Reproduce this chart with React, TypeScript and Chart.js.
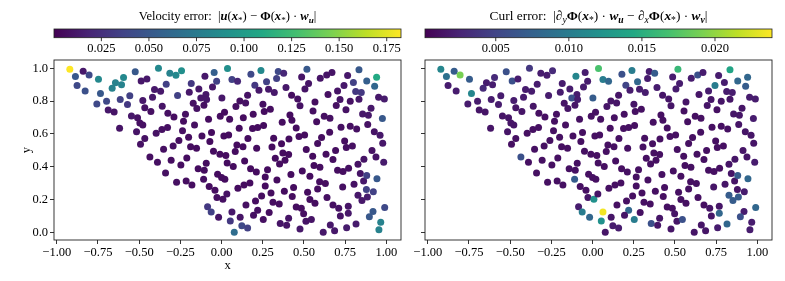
import React, { useEffect, useRef } from "react";
import { Chart, registerables } from "chart.js";

Chart.register(...registerables);

// ---------------- data ----------------
// Node positions (shared by both panels)
const pointX: number[] = [
  -0.921, -0.840, -0.804, -0.887, -0.747, -0.524, -0.383, -0.314, -0.277, -0.243,
  -0.101, -0.045, 0.036, -0.030, 0.063, 0.097, 0.178, 0.239, 0.344, 0.377,
  0.334, 0.273, 0.518, 0.486, 0.599, 0.638, 0.670, 0.765, 0.834, 0.881,
  0.941, 0.800, 0.743, 0.929, -0.877, -0.828, -0.644, -0.595, -0.607, -0.664,
  -0.488, -0.453, -0.735, -0.407, -0.370, -0.336, -0.184, -0.138, -0.196, -0.055,
  -0.095, 0.202, 0.227, 0.285, 0.320, 0.391, 0.528, 0.506, 0.704, 0.814,
  0.848, -0.757, -0.698, -0.615, -0.557, -0.571, -0.478, -0.419, -0.267, -0.126,
  -0.091, 0.002, -0.172, -0.107, -0.150, -0.360, 0.111, 0.146, 0.087, 0.158,
  0.251, 0.425, 0.462, 0.476, 0.567, 0.646, 0.719, 0.696, 0.781, 0.834,
  0.953, 0.988, -0.688, -0.652, -0.466, -0.429, -0.547, -0.510, -0.496, -0.478,
  -0.326, -0.289, -0.219, -0.231, -0.079, -0.008, 0.018, 0.049, 0.132, 0.192,
  0.259, 0.296, 0.415, 0.368, 0.427, 0.555, 0.577, 0.623, 0.658, 0.755,
  0.907, 0.856, 0.891, 0.976, -0.619, -0.164, -0.362, -0.328, -0.397, -0.516,
  -0.237, -0.119, -0.061, 0.014, 0.043, 0.107, 0.188, 0.219, 0.255, 0.160,
  0.453, 0.470, 0.504, 0.316, 0.409, 0.607, 0.656, 0.725, 0.781, 0.820,
  0.887, 0.927, 0.962, 0.747, -0.466, -0.492, -0.352, -0.294, -0.259, -0.200,
  -0.188, -0.152, -0.071, -0.049, 0.093, 0.130, 0.213, 0.306, 0.364, 0.514,
  0.583, 0.692, 0.757, 0.794, 0.913, 0.978,
  -0.010, 0.026, 0.083, 0.372, 0.407, 0.553, 0.634, 0.676, 0.937, -0.435,
  -0.389, -0.306, -0.247, -0.211, -0.142, -0.105, -0.093, 0.034, 0.071, 0.140,
  0.176, 0.211, 0.279, 0.326, 0.352, 0.385, 0.421, 0.490, 0.536, 0.561,
  0.597, 0.704, 0.737, 0.771, 0.828, 0.864, 0.984, -0.340, -0.273, -0.215,
  -0.180, -0.109, -0.075, -0.040, -0.024, 0.000, 0.020, 0.099, 0.136, 0.172,
  0.265, 0.265, 0.336, 0.381, 0.437, 0.522, 0.583, 0.595, 0.630, 0.735,
  0.804, 0.842, 0.862, 0.881, 0.943, 0.879, 0.921, -0.028, 0.008, 0.032,
  -0.085, -0.063, 0.063, -0.018, 0.053, 0.113, 0.148, 0.206, 0.219, 0.243,
  0.289, 0.300, 0.312, 0.350, 0.194, 0.253, 0.429, 0.453, 0.484, 0.498,
  0.536, 0.567, 0.640, 0.676, 0.711, 0.721, 0.769, 0.769, 0.828, 0.852,
  0.885, 0.919, 0.897, 0.990, 0.077, 0.123, 0.158, 0.356, 0.395, 0.407,
  0.476, 0.512, 0.545, 0.617, 0.660, 0.686, 0.759, 0.816, 0.966, 0.955,
];

const pointY: number[] = [
  0.994, 0.982, 0.959, 0.949, 0.933, 0.978, 1.000, 0.970, 0.957, 0.984,
  0.951, 0.974, 0.998, 0.921, 0.931, 0.921, 0.963, 0.986, 0.980, 0.970,
  0.937, 0.917, 0.994, 0.947, 0.939, 0.959, 0.974, 0.955, 0.990, 0.923,
  0.945, 0.913, 0.895, 0.890, 0.895, 0.862, 0.911, 0.943, 0.899, 0.878,
  0.923, 0.935, 0.846, 0.870, 0.860, 0.903, 0.907, 0.874, 0.854, 0.886,
  0.840, 0.897, 0.866, 0.872, 0.852, 0.882, 0.907, 0.874, 0.862, 0.858,
  0.852, 0.783, 0.799, 0.809, 0.832, 0.779, 0.803, 0.824, 0.834, 0.819,
  0.809, 0.819, 0.787, 0.775, 0.755, 0.769, 0.801, 0.789, 0.767, 0.836,
  0.781, 0.836, 0.813, 0.771, 0.795, 0.840, 0.809, 0.773, 0.799, 0.811,
  0.824, 0.813, 0.746, 0.734, 0.759, 0.736, 0.710, 0.698, 0.667, 0.655,
  0.726, 0.704, 0.720, 0.677, 0.690, 0.708, 0.732, 0.690, 0.698, 0.720,
  0.736, 0.751, 0.716, 0.671, 0.684, 0.740, 0.675, 0.708, 0.696, 0.748,
  0.757, 0.722, 0.714, 0.694, 0.635, 0.655, 0.627, 0.639, 0.604, 0.613,
  0.619, 0.588, 0.609, 0.588, 0.594, 0.635, 0.633, 0.639, 0.651, 0.572,
  0.637, 0.584, 0.594, 0.574, 0.570, 0.578, 0.611, 0.641, 0.647, 0.631,
  0.657, 0.613, 0.592, 0.558, 0.572, 0.538, 0.507, 0.527, 0.560, 0.580,
  0.523, 0.513, 0.554, 0.495, 0.533, 0.523, 0.513, 0.521, 0.540, 0.505,
  0.542, 0.499, 0.517, 0.527, 0.499, 0.544,
  0.477, 0.469, 0.493, 0.485, 0.475, 0.465, 0.477, 0.444, 0.460, 0.460,
  0.428, 0.440, 0.412, 0.454, 0.389, 0.379, 0.422, 0.424, 0.402, 0.436,
  0.389, 0.369, 0.383, 0.452, 0.418, 0.440, 0.353, 0.375, 0.343, 0.408,
  0.398, 0.379, 0.371, 0.391, 0.416, 0.446, 0.428, 0.363, 0.306, 0.314,
  0.290, 0.325, 0.280, 0.258, 0.355, 0.335, 0.325, 0.270, 0.290, 0.302,
  0.339, 0.284, 0.320, 0.252, 0.274, 0.245, 0.266, 0.310, 0.298, 0.278,
  0.294, 0.359, 0.314, 0.347, 0.327, 0.262, 0.249, 0.213, 0.203, 0.235,
  0.158, 0.126, 0.126, 0.093, 0.071, 0.093, 0.168, 0.193, 0.136, 0.223,
  0.122, 0.241, 0.185, 0.174, 0.105, 0.079, 0.219, 0.156, 0.148, 0.114,
  0.201, 0.178, 0.213, 0.168, 0.148, 0.101, 0.160, 0.118, 0.227, 0.195,
  0.217, 0.128, 0.097, 0.152, 0.002, 0.041, 0.028, 0.055, 0.045, 0.087,
  0.022, 0.069, 0.079, 0.002, 0.047, 0.012, 0.030, 0.053, 0.063, 0.018,
];

// |u(x*) - Phi(x*) w_u| per node
const velocityError: number[] = [
  0.1825, 0.012, 0.040, 0.050, 0.085, 0.050, 0.085, 0.080, 0.085, 0.090,
  0.012, 0.055, 0.090, 0.035, 0.035, 0.020, 0.040, 0.085, 0.040, 0.020,
  0.035, 0.035, 0.050, 0.010, 0.010, 0.010, 0.010, 0.012, 0.050, 0.055,
  0.110, 0.035, 0.012, 0.060, 0.040, 0.045, 0.080, 0.085, 0.080, 0.080,
  0.012, 0.012, 0.050, 0.012, 0.012, 0.035, 0.030, 0.012, 0.012, 0.012,
  0.012, 0.030, 0.012, 0.012, 0.012, 0.012, 0.010, 0.010, 0.010, 0.030,
  0.030, 0.040, 0.040, 0.035, 0.035, 0.030, 0.012, 0.012, 0.035, 0.012,
  0.012, 0.012, 0.009, 0.008, 0.009, 0.010, 0.008, 0.009, 0.008, 0.009,
  0.008, 0.007, 0.008, 0.009, 0.007, 0.008, 0.010, 0.008, 0.009, 0.012,
  0.012, 0.014, 0.012, 0.010, 0.009, 0.008, 0.012, 0.009, 0.008, 0.008,
  0.008, 0.007, 0.008, 0.007, 0.006, 0.007, 0.006, 0.007, 0.006, 0.007,
  0.006, 0.007, 0.006, 0.007, 0.006, 0.008, 0.007, 0.008, 0.008, 0.009,
  0.012, 0.012, 0.012, 0.050, 0.010, 0.008, 0.008, 0.008, 0.009, 0.010,
  0.008, 0.007, 0.006, 0.006, 0.006, 0.006, 0.006, 0.006, 0.006, 0.006,
  0.006, 0.006, 0.006, 0.006, 0.006, 0.007, 0.007, 0.008, 0.008, 0.008,
  0.009, 0.010, 0.012, 0.007, 0.009, 0.009, 0.008, 0.008, 0.007, 0.007,
  0.007, 0.006, 0.006, 0.006, 0.006, 0.006, 0.006, 0.006, 0.006, 0.006,
  0.007, 0.007, 0.008, 0.008, 0.009, 0.012,
  0.006, 0.006, 0.006, 0.006, 0.006, 0.006, 0.007, 0.007, 0.010, 0.008,
  0.008, 0.007, 0.007, 0.006, 0.006, 0.006, 0.006, 0.006, 0.006, 0.006,
  0.006, 0.006, 0.006, 0.006, 0.006, 0.006, 0.006, 0.006, 0.006, 0.006,
  0.007, 0.007, 0.007, 0.008, 0.009, 0.010, 0.014, 0.008, 0.008, 0.007,
  0.007, 0.008, 0.007, 0.007, 0.006, 0.006, 0.006, 0.006, 0.006, 0.006,
  0.006, 0.006, 0.006, 0.006, 0.006, 0.006, 0.007, 0.007, 0.007, 0.008,
  0.009, 0.010, 0.012, 0.035, 0.050, 0.035, 0.035, 0.008, 0.008, 0.009,
  0.030, 0.035, 0.012, 0.010, 0.030, 0.010, 0.008, 0.007, 0.008, 0.007,
  0.007, 0.007, 0.007, 0.007, 0.008, 0.008, 0.007, 0.007, 0.007, 0.008,
  0.007, 0.007, 0.008, 0.008, 0.009, 0.010, 0.010, 0.012, 0.012, 0.012,
  0.014, 0.050, 0.050, 0.040, 0.065, 0.040, 0.035, 0.010, 0.010, 0.010,
  0.012, 0.010, 0.010, 0.012, 0.012, 0.012, 0.014, 0.014, 0.080, 0.080,
];

// |d_y Phi w_u - d_x Phi w_v| per node
const curlError: number[] = [
  0.011, 0.007, 0.019, 0.009, 0.007, 0.006, 0.004, 0.002, 0.002, 0.003,
  0.011, 0.002, 0.017, 0.002, 0.010, 0.008, 0.006, 0.010, 0.002, 0.007,
  0.002, 0.008, 0.016, 0.002, 0.002, 0.006, 0.002, 0.002, 0.014, 0.008,
  0.008, 0.002, 0.010, 0.007, 0.002, 0.002, 0.002, 0.003, 0.002, 0.003,
  0.006, 0.002, 0.011, 0.002, 0.002, 0.002, 0.002, 0.002, 0.002, 0.002,
  0.002, 0.005, 0.002, 0.002, 0.002, 0.002, 0.002, 0.002, 0.002, 0.002,
  0.002, 0.002, 0.002, 0.002, 0.002, 0.002, 0.002, 0.002, 0.002, 0.006,
  0.002, 0.007, 0.0015, 0.0015, 0.0015, 0.0015, 0.0015, 0.0015, 0.0015, 0.0015,
  0.0015, 0.0015, 0.0015, 0.0015, 0.0015, 0.0015, 0.0015, 0.0015, 0.0015, 0.0015,
  0.002, 0.002, 0.0015, 0.0015, 0.0015, 0.0015, 0.0015, 0.0015, 0.0015, 0.0015,
  0.0012, 0.0012, 0.0012, 0.0012, 0.0012, 0.0012, 0.0012, 0.0012, 0.0012, 0.0012,
  0.0012, 0.0012, 0.0012, 0.0012, 0.0012, 0.0012, 0.0012, 0.0012, 0.0012, 0.0012,
  0.0015, 0.0015, 0.0015, 0.002, 0.0015, 0.0012, 0.0012, 0.0012, 0.0012, 0.0015,
  0.0012, 0.0012, 0.0012, 0.0012, 0.0012, 0.0012, 0.0012, 0.0012, 0.0012, 0.0012,
  0.0012, 0.0012, 0.0012, 0.0012, 0.0012, 0.0012, 0.0012, 0.0012, 0.0012, 0.0012,
  0.0015, 0.0015, 0.0015, 0.0012, 0.0012, 0.0012, 0.0012, 0.0012, 0.0012, 0.0012,
  0.0012, 0.0012, 0.0012, 0.0012, 0.0012, 0.0012, 0.0012, 0.0012, 0.0012, 0.0012,
  0.0012, 0.0012, 0.0012, 0.0012, 0.0015, 0.0015,
  0.0012, 0.0012, 0.0012, 0.0012, 0.0012, 0.0012, 0.0012, 0.0012, 0.0015, 0.006,
  0.0012, 0.0012, 0.0012, 0.0012, 0.0012, 0.0012, 0.0012, 0.0012, 0.0012, 0.0012,
  0.0012, 0.0012, 0.0012, 0.0012, 0.0012, 0.0012, 0.0012, 0.0012, 0.0012, 0.0012,
  0.0012, 0.0012, 0.0012, 0.0012, 0.0015, 0.0015, 0.002, 0.0012, 0.0012, 0.0012,
  0.0012, 0.007, 0.0012, 0.0012, 0.0012, 0.0012, 0.0012, 0.0012, 0.0012, 0.0012,
  0.0012, 0.0012, 0.0012, 0.0012, 0.0012, 0.0012, 0.0012, 0.0012, 0.0012, 0.0015,
  0.0015, 0.0015, 0.0015, 0.007, 0.008, 0.0015, 0.002, 0.0015, 0.012, 0.0015,
  0.002, 0.010, 0.0235, 0.008, 0.012, 0.0015, 0.0012, 0.0012, 0.008, 0.0012,
  0.0012, 0.0012, 0.0012, 0.0012, 0.0015, 0.010, 0.0012, 0.0012, 0.0012, 0.0015,
  0.0012, 0.0012, 0.0012, 0.0012, 0.0015, 0.0015, 0.0015, 0.008, 0.007, 0.007,
  0.007, 0.002, 0.006, 0.008, 0.0015, 0.002, 0.002, 0.006, 0.0015, 0.0015,
  0.0015, 0.0015, 0.006, 0.0015, 0.0015, 0.0015, 0.002, 0.008, 0.002, 0.002,
];

const xTickValues = [-1, -0.75, -0.5, -0.25, 0, 0.25, 0.5, 0.75, 1];
const yTickValues = [0, 0.2, 0.4, 0.6, 0.8, 1.0];
const velocityTicks = [0.025, 0.05, 0.075, 0.1, 0.125, 0.15, 0.175];
const curlTicks = [0.005, 0.01, 0.015, 0.02];
const velocityRange: [number, number] = [0.0001, 0.1825];
const curlRange: [number, number] = [0.00016, 0.0239];
const xLimits: [number, number] = [-1.017, 1.089];
const yLimits: [number, number] = [-0.045, 1.05];

// ---------------- styling ----------------
const W = 785;
const H = 281;
const SERIF = "'Liberation Serif', 'DejaVu Serif', serif";
const TICK_FONT = 12.5;
const PLOT_TOP = 60;
const PLOT_BOTTOM = 240;
const CB_TOP = 29;
const CB_H = 8.7;

const VIRIDIS = [
  "#440154", "#482475", "#414487", "#355f8d", "#2a788e", "#21918c",
  "#22a884", "#44bf70", "#7ad151", "#bddf26", "#fde725",
];

function hexRgb(h: string): number[] {
  return [parseInt(h.slice(1, 3), 16), parseInt(h.slice(3, 5), 16), parseInt(h.slice(5, 7), 16)];
}

function viridis(t: number): string {
  const c = Math.max(0, Math.min(1, t));
  const p = c * 10;
  const i = Math.min(9, Math.floor(p));
  const f = p - i;
  const a = hexRgb(VIRIDIS[i]);
  const b = hexRgb(VIRIDIS[i + 1]);
  const m = a.map((v, k) => Math.round(v + (b[k] - v) * f));
  return `rgb(${m[0]},${m[1]},${m[2]})`;
}

type Seg = { t: string; s?: "n" | "b" | "bi" | "i"; sub?: boolean };

function drawRich(ctx: CanvasRenderingContext2D, segs: Seg[], cx: number, baseline: number, size: number) {
  const fontFor = (seg: Seg) => {
    const sz = seg.sub ? size * 0.72 : size;
    const st = seg.s || "n";
    const style = st === "i" || st === "bi" ? "italic " : "";
    const weight = st === "b" || st === "bi" ? "bold " : "";
    return `${style}${weight}${sz}px ${SERIF}`;
  };
  const widths: number[] = [];
  let total = 0;
  for (const seg of segs) {
    ctx.font = fontFor(seg);
    const w = ctx.measureText(seg.t).width;
    widths.push(w);
    total += w;
  }
  let x = cx - total / 2;
  ctx.textAlign = "left";
  ctx.textBaseline = "alphabetic";
  ctx.fillStyle = "#000";
  segs.forEach((seg, i) => {
    ctx.font = fontFor(seg);
    ctx.fillText(seg.t, x, baseline + (seg.sub ? size * 0.25 : 0));
    x += widths[i];
  });
}

const velocityTitle: Seg[] = [
  { t: "Velocity error:  |" },
  { t: "u", s: "bi" },
  { t: "(" },
  { t: "x", s: "bi" },
  { t: "*", sub: true },
  { t: ") − " },
  { t: "Φ", s: "b" },
  { t: "(" },
  { t: "x", s: "bi" },
  { t: "*", sub: true },
  { t: ") · " },
  { t: "w", s: "bi" },
  { t: "u", s: "bi", sub: true },
  { t: "|" },
];

const curlTitle: Seg[] = [
  { t: "Curl error:  |∂" },
  { t: "y", s: "i", sub: true },
  { t: "Φ", s: "b" },
  { t: "(" },
  { t: "x", s: "bi" },
  { t: "*", sub: true },
  { t: ") · " },
  { t: "w", s: "bi" },
  { t: "u", s: "bi", sub: true },
  { t: " − ∂" },
  { t: "x", s: "i", sub: true },
  { t: "Φ", s: "b" },
  { t: "(" },
  { t: "x", s: "bi" },
  { t: "*", sub: true },
  { t: ") · " },
  { t: "w", s: "bi" },
  { t: "v", s: "bi", sub: true },
  { t: "|" },
];

interface PanelSpec {
  left: number;
  right: number;
  errors: number[];
  range: [number, number];
  cbTicks: number[];
  cbDecimals: number;
  title: Seg[];
  titleSize: number;
  primary: boolean;
}

const panels: PanelSpec[] = [
  { left: 54, right: 401, errors: velocityError, range: velocityRange, cbTicks: velocityTicks, cbDecimals: 3, title: velocityTitle, titleSize: 12.6, primary: true },
  { left: 425, right: 772, errors: curlError, range: curlRange, cbTicks: curlTicks, cbDecimals: 3, title: curlTitle, titleSize: 13.4, primary: false },
];

const fmt = (v: number, d: number) => (v < 0 ? "−" : "") + Math.abs(v).toFixed(d);

function makePlugin(spec: PanelSpec) {
  return {
    id: "panelDecor" + (spec.primary ? "L" : "R"),
    afterDraw(chart: Chart) {
      const ctx = chart.ctx;
      const a = chart.chartArea;
      ctx.save();
      // axes frame
      ctx.strokeStyle = "#222";
      ctx.lineWidth = 0.9;
      ctx.strokeRect(a.left, a.top, a.right - a.left, a.bottom - a.top);

      // colorbar
      const cbL = a.left;
      const cbW = a.right - a.left;
      const grad = ctx.createLinearGradient(cbL, 0, cbL + cbW, 0);
      VIRIDIS.forEach((c, i) => grad.addColorStop(i / (VIRIDIS.length - 1), c));
      ctx.fillStyle = grad;
      ctx.fillRect(cbL, CB_TOP, cbW, CB_H);
      ctx.strokeStyle = "#222";
      ctx.lineWidth = 0.8;
      ctx.strokeRect(cbL, CB_TOP, cbW, CB_H);
      const [lo, hi] = spec.range;
      ctx.font = `${TICK_FONT}px ${SERIF}`;
      ctx.textAlign = "center";
      ctx.textBaseline = "alphabetic";
      ctx.fillStyle = "#000";
      for (const t of spec.cbTicks) {
        const px = cbL + ((t - lo) / (hi - lo)) * cbW;
        ctx.beginPath();
        ctx.moveTo(px, CB_TOP + CB_H);
        ctx.lineTo(px, CB_TOP + CB_H + 3.5);
        ctx.strokeStyle = "#000";
        ctx.lineWidth = 0.8;
        ctx.stroke();
        ctx.fillText(t.toFixed(spec.cbDecimals), px, 51.5);
      }

      // colorbar title
      drawRich(ctx, spec.title, (a.left + a.right) / 2, 20, spec.titleSize);

      // axis titles
      if (spec.primary) {
        ctx.font = `${TICK_FONT}px ${SERIF}`;
        ctx.fillStyle = "#000";
        ctx.textAlign = "center";
        ctx.textBaseline = "middle";
        ctx.fillText("x", (a.left + a.right) / 2, 266);
        ctx.translate(26.5, (a.top + a.bottom) / 2);
        ctx.rotate(-Math.PI / 2);
        ctx.fillText("y", 0, 0);
      }
      ctx.restore();
    },
  };
}

function Panel({ spec }: { spec: PanelSpec }) {
  const ref = useRef<HTMLCanvasElement | null>(null);
  useEffect(() => {
    if (!ref.current) return;
    const yWidth = spec.primary ? spec.left : 10;
    const [lo, hi] = spec.range;
    const colors = spec.errors.map((e) => viridis((e - lo) / (hi - lo)));
    const chart = new Chart(ref.current, {
      type: "scatter",
      data: {
        datasets: [
          {
            data: pointX.map((x, i) => ({ x, y: pointY[i] })),
            backgroundColor: colors,
            borderColor: colors,
            borderWidth: 0,
            pointRadius: 3.5,
            pointHoverRadius: 3.5,
          },
        ],
      },
      options: {
        animation: false,
        responsive: false,
        maintainAspectRatio: false,
        events: [],
        layout: {
          padding: { left: spec.left - yWidth, right: W - spec.right, top: PLOT_TOP, bottom: 0 },
        },
        plugins: {
          legend: { display: false },
          tooltip: { enabled: false },
          title: { display: false },
        },
        scales: {
          x: {
            type: "linear",
            min: xLimits[0],
            max: xLimits[1],
            afterBuildTicks: (s: any) => {
              s.ticks = xTickValues.map((v) => ({ value: v }));
            },
            afterFit: (s: any) => {
              s.height = H - PLOT_BOTTOM;
            },
            ticks: {
              callback: (v: any) => fmt(Number(v), 2),
              font: { family: SERIF, size: TICK_FONT },
              color: "#000",
              maxRotation: 0,
              autoSkip: false,
              padding: 1,
            },
            grid: {
              drawOnChartArea: false,
              drawTicks: true,
              tickLength: 4,
              color: "#000",
              tickColor: "#000",
              lineWidth: 0.8,
            },
            border: { display: false },
          },
          y: {
            type: "linear",
            min: yLimits[0],
            max: yLimits[1],
            afterBuildTicks: (s: any) => {
              s.ticks = yTickValues.map((v) => ({ value: v }));
            },
            afterFit: (s: any) => {
              s.width = yWidth;
            },
            ticks: {
              display: spec.primary,
              callback: (v: any) => fmt(Number(v), 1),
              font: { family: SERIF, size: TICK_FONT },
              color: "#000",
              autoSkip: false,
              padding: 2,
            },
            grid: {
              drawOnChartArea: false,
              drawTicks: true,
              tickLength: 4,
              color: "#000",
              tickColor: "#000",
              lineWidth: 0.8,
            },
            border: { display: false },
          },
        },
      },
      plugins: [makePlugin(spec)],
    } as any);
    return () => chart.destroy();
  }, [spec]);
  return (
    <canvas
      ref={ref}
      width={W}
      height={H}
      style={{ position: "absolute", left: 0, top: 0, width: W, height: H }}
    />
  );
}

export default function App() {
  return (
    <div style={{ position: "absolute", left: 0, top: 0, width: W, height: H, background: "#fff" }}>
      {panels.map((p, i) => (
        <Panel key={i} spec={p} />
      ))}
    </div>
  );
}
